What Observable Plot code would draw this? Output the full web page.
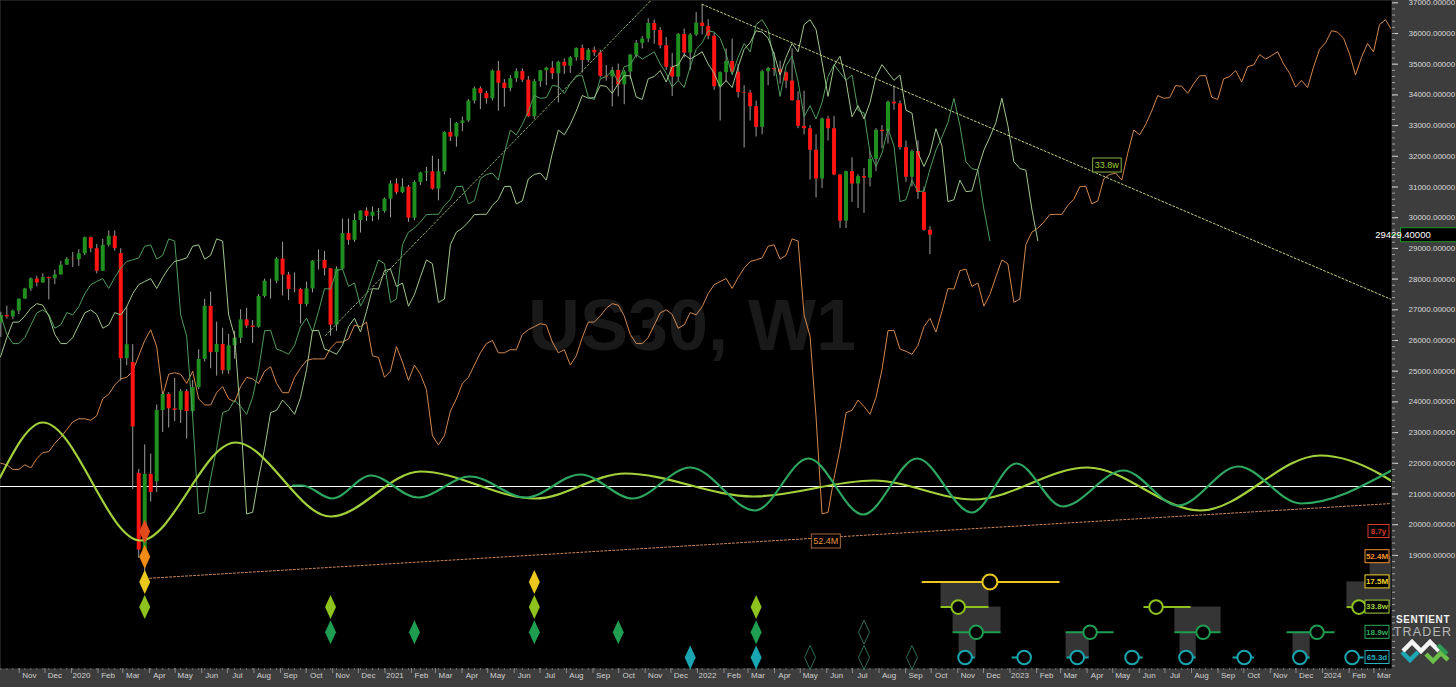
<!DOCTYPE html>
<html><head><meta charset="utf-8">
<script src="https://cdn.jsdelivr.net/npm/d3@7"></script>
<script src="https://cdn.jsdelivr.net/npm/@observablehq/plot@0.6"></script>
<style>
html,body{margin:0;padding:0;background:#3d3d3d;}
#wrap{position:relative;width:1456px;height:687px;overflow:hidden;}
#wrap svg{position:absolute;left:0;top:0;}
</style></head><body><div id="wrap"></div>
<script>
// ---------------- DATA ----------------
const candleStart = "2019-10-07"; // first weekly bar (Monday)
const opens = [26573,26816,26770,26958,27347,27681,28005,27876,28051,28015,28135,28455,28645,28634,28823,29348,28989,28256,29102,29398,
28830,25409,25280,21670,19174,21637,21400,23719,24242,23775,23724,24331,23685,24465,25383,27111,25606,25871,25016,25827,
26075,26672,26470,26428,27433,27931,27930,28654,28133,27666,27657,27174,27683,28587,28606,28336,26502,28323,29480,29263,
29910,30218,30046,30179,30200,30606,31098,30814,30997,29983,31148,31458,31494,30932,31496,32779,32628,33073,33153,33801,
34200,34043,33875,34778,34382,34208,34529,34756,34480,33290,34433,34786,34870,34687,35062,34935,35209,35515,35120,35455,
35369,34608,34584,34798,34326,34746,35295,35677,35820,36328,36100,35602,34899,34580,35971,35365,35950,36338,36231,35912,
34265,34725,35089,34738,34079,34059,33615,32944,34755,34861,34818,34721,34451,33811,32977,32899,32197,31262,33213,32900,
31393,29888,31500,31097,31338,31288,31899,32845,32803,33761,33707,32283,31318,32151,30822,29590];
const highs = [26920,27120,26990,27350,27700,28040,28090,28175,28070,28290,28580,28700,28870,28960,29370,29370,29130,29300,29570,29570,
28990,27100,25864,21800,22600,22300,23900,24300,24300,24760,24400,24400,24700,25700,27340,27580,26600,26400,26200,26300,
27000,27050,26650,27500,28000,28000,28700,29200,28220,28200,27700,27900,28600,28950,28900,28340,28400,29950,29960,30120,
30220,30320,30350,30300,30640,31200,31270,31270,31050,31200,31480,31640,32000,31900,32800,33230,33100,33280,33850,34260,
34260,34120,34810,35090,34500,34630,34850,34850,34600,34500,34800,34900,35090,35100,35170,35250,35530,35630,35510,35560,
35460,34960,34900,35000,34800,35320,35770,35900,36480,36440,36190,35870,35350,36000,36150,36000,36680,36950,36450,36000,
34750,35500,35820,34990,34300,34150,33800,34800,34900,35370,35100,34750,35500,34100,34120,33000,32700,33250,33300,33300,
31400,31520,31950,31400,31600,32150,32900,33000,33800,34280,33800,32500,32200,32500,31000,29700];
const lows = [26100,26700,26680,26850,27350,27600,27750,27860,27320,27820,28130,28450,28380,28420,28770,28860,28170,28250,29050,28910,
24680,25180,21150,18900,18210,20740,21050,23000,23150,23360,23300,22790,23600,24400,25300,25080,24840,24900,24900,25390,
25900,26400,25900,26400,27380,27350,27850,27450,27300,27550,26540,27100,27550,28300,28100,26140,26300,28300,29100,29200,
29500,29880,29870,29920,30150,30000,30750,30780,29850,29900,31050,31180,30900,30550,31400,32480,32300,32800,33100,33700,
33520,33700,33800,33470,33600,34100,34400,34400,33260,33200,34250,34300,34500,33740,34670,34700,35100,34710,35050,35250,
34550,34450,33610,33940,33680,34500,35200,35500,35700,35650,35500,34800,33950,34450,35200,34800,35900,35950,35800,34150,
33150,34400,34700,33900,32270,33150,32630,32700,34300,34600,34350,34200,33800,32900,32700,31230,30640,30950,32500,31380,
29650,29650,30500,30300,30140,31000,31500,32250,32400,33500,32200,31150,31000,30600,29560,28800];
const closes = [26816,26770,26958,27347,27681,28005,27876,28051,28015,28135,28455,28645,28634,28823,29348,28989,28256,29102,29398,28992,
25409,25864,23186,19174,21637,21053,23719,24242,23775,23724,24331,23685,24465,25383,27111,25606,25871,25016,25827,26075,
26672,26470,26428,27433,27931,27930,28654,28133,27666,27657,27174,27683,28587,28606,28336,26502,28323,29480,29263,29910,
30218,30046,30179,30200,30606,31098,30814,30997,29983,31148,31458,31494,30932,31496,32779,32628,33073,33153,33801,34200,
34043,33875,34778,34382,34208,34529,34756,34480,33290,34433,34786,34870,34687,35062,34935,35209,35515,35120,35455,35369,
34608,34584,34798,34326,34746,35295,35677,35820,36328,36100,35602,34899,34580,35971,35365,35950,36338,36231,35912,34265,
34725,35089,34738,34079,34059,33615,32944,34755,34861,34818,34721,34451,33811,32977,32899,32197,31262,33213,32900,31393,
29888,31500,31097,31338,31288,31899,32845,32803,33761,33707,32283,31318,32151,30822,29590,29429];
const lastPrice = 29429.4;

// weekly median price before the candles (feeds the displaced FLD lines)
const preStart = "2017-07-31";
const preMedians = [22000,21950,21800,21800,21950,21850,22150,22350,22380,22650,22850,23100,23350,23450,23450,23400,23550,24100,24250,24550,24750,24800,
25000,25500,26000,26350,25800,24200,24900,24950,24900,24600,25000,24100,23900,23900,24300,24500,24100,24000,24500,24800,24750,24600,
25000,25150,24600,24300,24300,24800,25100,25350,25400,25400,25400,25750,25950,25950,26050,26500,26450,26600,25500,25450,24800,25000,
25800,25300,24700,25200,24900,24400,22900,22600,22900,
23700,24100,24600,24800,25200,25600,25900,26000,25600,25600,25700,25700,26200,26350,26450,26550,26500,25950,25600,25700,25200,
25500,26100,26600,26600,26800,27050,27200,27150,26800,26200,25900,25900,26100,26500,26900,27000,26850,26400];

// FLD displacements (weeks)
const fldNames = ["18.9w FLD","33.8w FLD","52.4M FLD"];
const fldShiftWeeks = [10, 18, 114];
const fldColors = ["#4f9c5e","#a2c68c","#d2884f"];

// cycle composite waves (price units)
const wave33Dates = ["2019-10-06","2019-11-25","2020-03-18","2020-07-07","2020-10-26","2021-02-08","2021-06-22","2021-10-05","2022-03-04","2022-07-22","2022-11-16","2023-03-29","2023-08-08","2023-12-26","2024-05-14"];
const wave33Values = [21537,23329,19485,22678,20267,21733,20853,21668,20919,21440,20821,21863,20463,22254,20300];
const wave18Dates = ["2020-09-12","2020-09-23","2020-10-28","2020-12-12","2021-02-05","2021-04-07","2021-06-11","2021-08-14","2021-10-14","2021-12-20","2022-03-06","2022-05-07","2022-07-10","2022-09-11","2022-11-14","2023-01-05","2023-02-28","2023-05-10","2023-07-13","2023-09-21","2023-12-03","2024-03-18"];
const wave18Values = [21277,21277,20853,21603,20886,21570,20886,21635,20853,21863,20463,22156,20332,22156,20397,21994,20593,21765,20625,21896,20691,21765];
const baselineLevel = 21244;

// trend lines
const downTrend = [{date:"2022-01-03", value:36950},{date:"2024-03-18", value:27335}];
const upTrend = [{date:"2020-10-20", value:26163},{date:"2021-11-04", value:37075}];
const orangeTrend = [{date:"2020-03-24", value:18248},{date:"2024-03-18", value:20690}];
const trendLabels = [{date:"2023-04-21", value:31700, text:"33.8w", color:"#9fcf3e", border:"#88b048"},
                     {date:"2022-05-28", value:19453, text:"52.4M", color:"#e8923e", border:"#a8683a"}];

// cycles
const cycleNames = ["8.7y","52.4M","17.5M","33.8w","18.9w","65.3d"];
const cycleColors = ["#e04a1c","#f08c14","#ecc81e","#8ec21e","#1f9e52","#19a6b0"];
const labelColors = ["#d23a2a","#f0922e","#f2d22b","#a4d03c","#2fae5c","#2ab0bf"];

const troughMarkers = [
 {date:"2020-03-23",cycle:"8.7y"},{date:"2020-03-23",cycle:"52.4M"},{date:"2020-03-23",cycle:"17.5M"},{date:"2020-03-23",cycle:"33.8w"},
 {date:"2020-10-26",cycle:"33.8w"},{date:"2020-10-26",cycle:"18.9w"},
 {date:"2021-02-01",cycle:"18.9w"},
 {date:"2021-06-21",cycle:"17.5M"},{date:"2021-06-21",cycle:"33.8w"},{date:"2021-06-21",cycle:"18.9w"},
 {date:"2021-09-27",cycle:"18.9w"},
 {date:"2021-12-20",cycle:"65.3d"},
 {date:"2022-03-07",cycle:"33.8w"},{date:"2022-03-07",cycle:"18.9w"},{date:"2022-03-07",cycle:"65.3d"}];
const pendingMarkers = [{date:"2022-05-09",cycle:"65.3d"},{date:"2022-07-11",cycle:"18.9w"},{date:"2022-07-11",cycle:"65.3d"},{date:"2022-09-05",cycle:"65.3d"}];

const projCircles = [
 {cycle:"17.5M",date:"2022-12-05",start:"2022-09-17",end:"2023-02-25"},
 {cycle:"33.8w",date:"2022-10-29",start:"2022-10-09",end:"2022-12-04"},
 {cycle:"33.8w",date:"2023-06-17",start:"2023-06-03",end:"2023-07-28"},
 {cycle:"33.8w",date:"2024-02-09",start:"2024-01-26",end:"2024-02-17"},
 {cycle:"18.9w",date:"2022-11-19",start:"2022-10-23",end:"2022-12-18"},
 {cycle:"18.9w",date:"2023-04-01",start:"2023-03-04",end:"2023-04-29"},
 {cycle:"18.9w",date:"2023-08-11",start:"2023-07-09",end:"2023-09-01"},
 {cycle:"18.9w",date:"2023-12-22",start:"2023-11-17",end:"2024-01-12"},
 {cycle:"65.3d",date:"2022-11-06",start:"2022-11-06",end:"2022-11-18"},
 {cycle:"65.3d",date:"2023-01-14",start:"2022-12-31",end:"2023-01-14"},
 {cycle:"65.3d",date:"2023-03-17",start:"2023-03-05",end:"2023-03-31"},
 {cycle:"65.3d",date:"2023-05-20",start:"2023-05-20",end:"2023-06-02"},
 {cycle:"65.3d",date:"2023-07-22",start:"2023-07-15",end:"2023-08-03"},
 {cycle:"65.3d",date:"2023-09-28",start:"2023-09-15",end:"2023-10-10"},
 {cycle:"65.3d",date:"2023-12-02",start:"2023-11-25",end:"2023-12-14"},
 {cycle:"65.3d",date:"2024-02-01",start:"2024-02-01",end:"2024-02-15"}];
const rangeBoxes = [
 {start:"2022-10-09",end:"2022-12-04",top:"17.5M",bottom:"33.8w"},
 {start:"2022-10-23",end:"2022-12-18",top:"33.8w",bottom:"18.9w"},
 {start:"2022-10-30",end:"2022-11-19",top:"18.9w",bottom:"65.3d"},
 {start:"2023-03-04",end:"2023-03-31",top:"18.9w",bottom:"65.3d"},
 {start:"2023-07-09",end:"2023-09-01",top:"33.8w",bottom:"18.9w"},
 {start:"2023-07-15",end:"2023-08-03",top:"18.9w",bottom:"65.3d"},
 {start:"2023-11-24",end:"2023-12-14",top:"18.9w",bottom:"65.3d"},
 {start:"2024-01-26",end:"2024-03-20",top:"17.5M",bottom:"33.8w"},
 {start:"2024-02-22",end:"2024-03-20",top:"52.4M",bottom:"17.5M"}];

// axes
const yTicks = [19000,20000,21000,22000,23000,24000,25000,26000,27000,28000,29000,30000,31000,32000,33000,34000,35000,36000,37000];
const monthNames = ["Jan","Feb","Mar","Apr","May","Jun","Jul","Aug","Sep","Oct","Nov","Dec"];
const xDomain = [new Date("2019-10-06T14:00Z"), new Date("2024-03-18T00:00Z")];
const yDomain = [15316, 37075];
const watermark = "US30, W1";

// ---------------- BUILD ----------------
const DAY = 864e5, WEEK = 7*DAY;
const t0 = Date.parse(candleStart+"T00:00Z");
const candles = closes.map((c,i)=>({date:new Date(t0+i*WEEK), open:opens[i], high:highs[i], low:lows[i], close:c}));
const up = candles.filter(d=>d.close>=d.open), down = candles.filter(d=>d.close<d.open);
const p0 = Date.parse(preStart+"T00:00Z");
const medians = preMedians.concat(candles.map(d=>(d.high+d.low)/2));
const flds = fldNames.map((n,k)=>medians.map((v,i)=>({date:new Date(p0+(i+fldShiftWeeks[k])*WEEK), value:v})));
const wave33 = wave33Dates.map((d,i)=>({date:new Date(d), value:wave33Values[i]}));
const wave18 = wave18Dates.map((d,i)=>({date:new Date(d), value:wave18Values[i]}));
const toDate = a => a.map(d=>({...d, date:new Date(d.date)}));
const monthTicks = d3.utcMonth.range(new Date("2019-11-01"), new Date("2024-04-01"));
const weekTicks = d3.utcMonday.range(new Date("2019-10-07"), new Date("2024-03-18"));
const minorY = d3.range(15400, 37100, 200);
const fmtMonth = d => d.getUTCMonth()===0 ? String(d.getUTCFullYear()) : monthNames[d.getUTCMonth()];
const FONT = "Liberation Sans, Arial, sans-serif";

const main = Plot.plot({
  width:1456, height:687, marginLeft:0, marginRight:65, marginTop:0, marginBottom:19,
  style:{background:"#3d3d3d", fontFamily:FONT},
  x:{type:"utc", domain:xDomain},
  y:{domain:yDomain},
  marks:[
    Plot.frame({fill:"#000", stroke:null}),
    Plot.text([watermark], {frameAnchor:"middle", text:d=>d, fontSize:72, fontWeight:"bold", fill:"#191919", dx:-4, dy:-8}),
    Plot.ruleY([baselineLevel], {stroke:"#ffffff", strokeWidth:1.2}),
    Plot.line(flds[2], {x:"date", y:"value", stroke:fldColors[2], strokeWidth:1, clip:true}),
    Plot.ruleX(candles, {x:"date", y1:"low", y2:"high", stroke:"#9c9c9c", strokeWidth:1}),
    Plot.ruleX(up, {x:"date", y1:"open", y2:"close", stroke:"#1f8f1f", strokeWidth:4}),
    Plot.ruleX(down, {x:"date", y1:"open", y2:"close", stroke:"#ff1414", strokeWidth:4}),
    Plot.line(flds[0], {x:"date", y:"value", stroke:fldColors[0], strokeWidth:1, clip:true}),
    Plot.line(flds[1], {x:"date", y:"value", stroke:fldColors[1], strokeWidth:1, clip:true}),
    Plot.line(toDate(upTrend), {x:"date", y:"value", stroke:"#86a872", strokeWidth:1, strokeDasharray:"2,2", clip:true}),
    Plot.line(toDate(downTrend), {x:"date", y:"value", stroke:"#bcd27e", strokeWidth:1, strokeDasharray:"2,2", clip:true}),
    Plot.line(toDate(orangeTrend), {x:"date", y:"value", stroke:"#d0875a", strokeWidth:1, strokeDasharray:"2,2", clip:true}),
    Plot.line(wave33, {x:"date", y:"value", stroke:"#a2d13c", strokeWidth:2.2, curve:"monotone-x", clip:true}),
    Plot.line(wave18, {x:"date", y:"value", stroke:"#2ea760", strokeWidth:2.2, curve:"monotone-x", clip:true}),
    Plot.axisY(yTicks, {anchor:"right", tickSize:6, tickPadding:11, tickFormat:d=>d.toFixed(5), fontSize:8, color:"#dadada", label:null}),
    Plot.axisY(minorY, {anchor:"right", tickSize:3, tickFormat:()=>"", color:"#a0a0a0", label:null}),
    Plot.axisX(weekTicks, {anchor:"bottom", tickSize:2, tickFormat:()=>"", color:"#6e6e6e", label:null}),
    Plot.axisX(monthTicks, {anchor:"bottom", tickSize:5, tickFormat:()=>"", color:"#8c8c8c", dx:-3, label:null}),
    Plot.axisX(monthTicks, {anchor:"bottom", tickSize:0, tickPadding:4, tickFormat:fmtMonth, fontSize:8, color:"#d0d0d0", dx:7, label:null})
  ]
});

const rowOf = Object.fromEntries(cycleNames.map((c,i)=>[c,i]));
const colorOf = Object.fromEntries(cycleNames.map((c,i)=>[c,cycleColors[i]]));
const tallDiamond = {draw(ctx){ ctx.moveTo(0,-12); ctx.lineTo(5.5,0); ctx.lineTo(0,12); ctx.lineTo(-5.5,0); ctx.closePath(); }};
const rowPanel = Plot.plot({
  width:1456, height:687, marginLeft:0, marginRight:65, marginTop:0, marginBottom:19,
  style:{background:"transparent", fontFamily:FONT},
  x:{type:"utc", domain:xDomain, axis:null},
  y:{domain:[0,5], range:[531,657], axis:null},
  marks:[
    Plot.rect(rangeBoxes, {x1:d=>new Date(d.start), x2:d=>new Date(d.end), y1:d=>rowOf[d.top], y2:d=>rowOf[d.bottom], fill:"#353535", clip:true}),
    ...cycleNames.map(c=>Plot.ruleY(projCircles.filter(d=>d.cycle===c), {x1:d=>new Date(d.start), x2:d=>new Date(d.end), y:d=>rowOf[d.cycle], stroke:colorOf[c], strokeWidth:2})),
    ...cycleNames.map(c=>Plot.dot(projCircles.filter(d=>d.cycle===c), {x:d=>new Date(d.date), y:d=>rowOf[d.cycle], r:c==="17.5M"?7.5:6.8, stroke:colorOf[c], strokeWidth:2, fill:"#000"})),
    ...cycleNames.map(c=>Plot.dot(troughMarkers.filter(d=>d.cycle===c), {x:d=>new Date(d.date), y:d=>rowOf[d.cycle], symbol:tallDiamond, fill:colorOf[c], stroke:"none"})),
    Plot.dot(pendingMarkers, {x:d=>new Date(d.date), y:d=>rowOf[d.cycle], symbol:tallDiamond, fill:"none", stroke:"#2c6e58", strokeWidth:1})
  ]
});

const wrap = document.getElementById("wrap");
wrap.appendChild(main);
wrap.appendChild(rowPanel);

// ---------------- ANNOTATIONS ----------------
function boxLabel(svg, x, y, txt, o){
  const g = d3.select(svg).append("g");
  const t = g.append("text").attr("x",x).attr("y",y).attr("dy","0.36em")
    .attr("text-anchor",o.anchor||"middle").attr("font-size",o.size||8.5)
    .attr("font-family",FONT).attr("font-weight",o.weight||"normal").attr("fill",o.color).text(txt);
  const b = t.node().getBBox();
  const px = o.padX==null?2:o.padX;
  const w = o.width || (b.width+2*px);
  const cx = b.x + b.width/2;
  g.insert("rect","text").attr("x",(o.left!=null?o.left:cx-w/2)).attr("y",y-(o.h||13)/2).attr("width",w).attr("height",o.h||13)
    .attr("fill","#000").attr("stroke",o.border).attr("stroke-width",1);
  return g;
}
const xs = main.scale("x"), ys = main.scale("y"), rs = rowPanel.scale("y");
trendLabels.forEach(l=>boxLabel(rowPanel, xs.apply(new Date(l.date)), ys.apply(l.value), l.text, {color:l.color, border:l.border, size:9, h:14}));
cycleNames.forEach((c,i)=>{
  const w = c==="8.7y"?21:24;
  boxLabel(rowPanel, 1389-w/2, rs.apply(i), c, {color:labelColors[i], border:labelColors[i], size:8, weight:"bold", width:w, left:1389-w, h:13});
});
// current price tag on the axis
{
  const y = ys.apply(lastPrice);
  const s = d3.select(main);
  s.append("line").attr("x1",1391).attr("x2",1401).attr("y1",y).attr("y2",y).attr("stroke","#1c9a2a");
  s.append("rect").attr("x",1400.5).attr("y",y-7).attr("width",56).attr("height",14).attr("fill","#000").attr("stroke","#1c9a2a");
  s.append("text").attr("x",1403).attr("y",y).attr("dy","0.36em").attr("font-size",9.5).attr("font-family",FONT).attr("fill","#fff").text(lastPrice.toFixed(5));
}
// Sentient Trader logo
{
  const s = d3.select(main).append("g");
  s.append("text").attr("x",1423).attr("y",623).attr("text-anchor","middle").attr("font-size",10).attr("font-weight","bold")
    .attr("letter-spacing",0.6).attr("font-family",FONT).attr("fill","#f2f2f2").text("SENTIENT");
  s.append("text").attr("x",1423).attr("y",636).attr("text-anchor","middle").attr("font-size",12.5).attr("font-weight","300")
    .attr("letter-spacing",1.2).attr("font-family",FONT).attr("fill","#b8b8b8").text("TRADER");
  const seg = (pts,col)=>s.append("path").attr("d","M"+pts.map(p=>p.join(",")).join("L")).attr("fill","none").attr("stroke",col).attr("stroke-width",4.5).attr("stroke-linejoin","miter");
  seg([[1402,652],[1410,660],[1418,652]],"#1fa6b5");
  seg([[1403,651],[1412,642],[1421,651],[1430,642],[1439,651]],"#f4f4f4");
  seg([[1426,654],[1433,661],[1441,653],[1448,660]],"#6cc04a");
  seg([[1438,645],[1447,654]],"#2f9a56");
}
</script></body></html>
